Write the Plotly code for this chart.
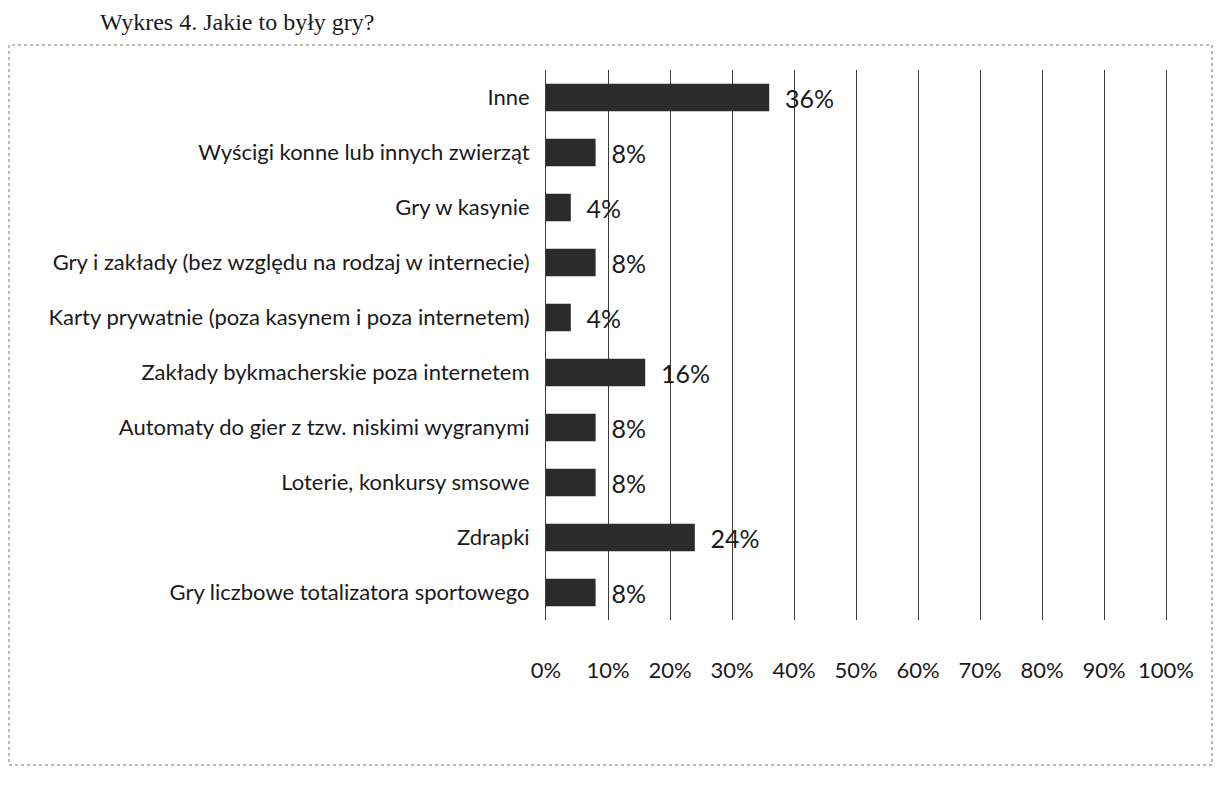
import plotly.graph_objects as go

categories = [
    'Inne',
    'Wyścigi konne lub innych zwierząt',
    'Gry w kasynie',
    'Gry i zakłady (bez względu na rodzaj w internecie)',
    'Karty prywatnie (poza kasynem i poza internetem)',
    'Zakłady bykmacherskie poza internetem',
    'Automaty do gier z tzw. niskimi wygranymi',
    'Loterie, konkursy smsowe',
    'Zdrapki',
    'Gry liczbowe totalizatora sportowego',
]
values = [36, 8, 4, 8, 4, 16, 8, 8, 24, 8]
tick_vals = [0, 10, 20, 30, 40, 50, 60, 70, 80, 90, 100]
tick_text = [f'{v}%' for v in tick_vals]

# page has an 8px body margin, so the figure is a bit smaller than the window
W, H = 1205, 769
L, R, T, B = 538, 47, 62, 157
pw, ph = W - L - R, H - T - B

fig = go.Figure(
    go.Bar(
        x=values,
        y=categories,
        orientation='h',
        marker=dict(color='#2b2b2b', line=dict(width=0)),
        text=[f'{v}%' for v in values],
        texttemplate='  %{text}',
        textposition='outside',
        constraintext='none',
        textfont=dict(family='Lato', size=25, color='#1a1a1a'),
        cliponaxis=False,
    )
)

fig.update_layout(
    width=W,
    height=H,
    plot_bgcolor='white',
    paper_bgcolor='white',
    margin=dict(l=L, r=R, t=T, b=B),
    showlegend=False,
    bargap=0.5,
    font=dict(family='Lato', size=22, color='#1a1a1a'),
    title=dict(
        text='Wykres 4. Jakie to były gry?',
        x=92 / W,
        xanchor='left',
        y=1 - 14 / H,
        yanchor='middle',
        font=dict(family='Liberation Serif', size=24, color='#1a1a1a'),
    ),
    xaxis=dict(
        range=[0, 100],
        tickvals=tick_vals,
        ticktext=tick_text,
        showgrid=True,
        gridcolor='#3a3a3a',
        gridwidth=1,
        zeroline=False,
        showline=False,
        ticks='',
        ticklabelstandoff=35,
        tickfont=dict(family='Lato', size=22),
        fixedrange=True,
    ),
    yaxis=dict(
        autorange='reversed',
        showgrid=False,
        showline=True,
        mirror=True,
        linecolor='#3a3a3a',
        linewidth=1,
        ticks='',
        ticklabelstandoff=11,
        tickfont=dict(family='Lato', size=22),
        fixedrange=True,
    ),
    shapes=[
        dict(
            type='rect', xref='paper', yref='paper',
            x0=-(L - 1) / pw, x1=(W - 1 - L) / pw,
            y0=-(B - 12) / ph, y1=1 + (T - 37) / ph,
            line=dict(color='#777777', width=1, dash='dot'),
        ),
    ],
)

fig.write_html('out.html')
